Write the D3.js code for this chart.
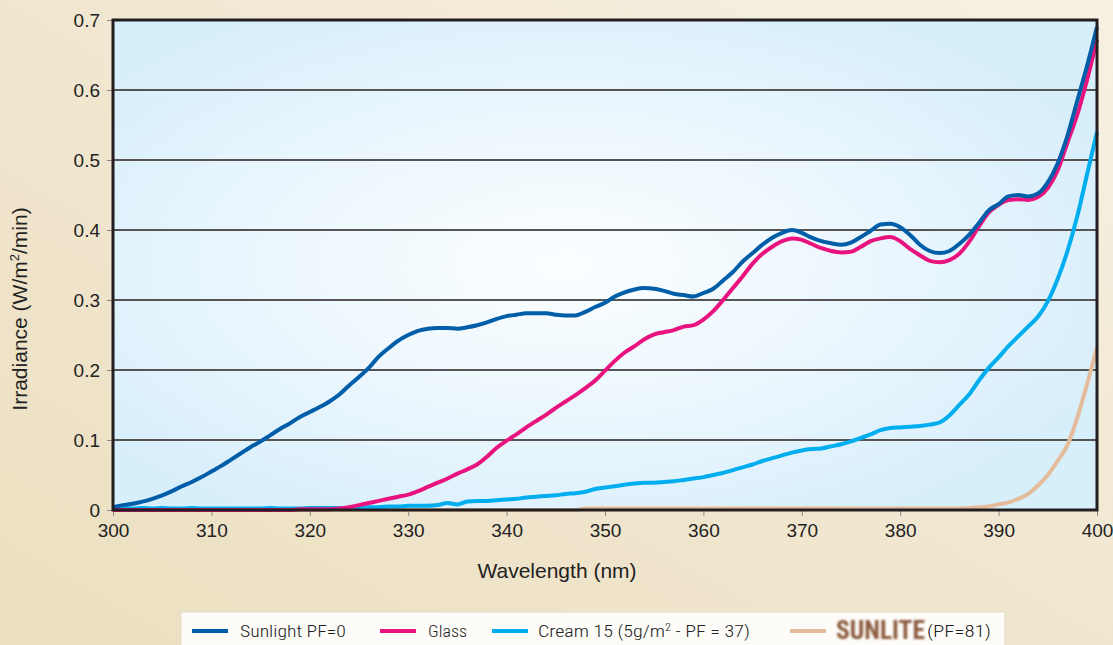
<!DOCTYPE html>
<html><head><meta charset="utf-8">
<script src="https://cdn.jsdelivr.net/npm/d3@7"></script>
<style>
html,body{margin:0;padding:0;overflow:hidden;}
svg{display:block;}
</style></head>
<body>
<svg id="c" width="1113" height="645"></svg>
<script>
// ---- DATA ----
const wavelengths = d3.range(300, 401); // 300..400 nm, 1 nm step
const sunlight = [0.004,0.007,0.009,0.012,0.016,0.021,0.027,0.034,0.040,0.047,
 0.055,0.063,0.072,0.081,0.090,0.098,0.107,0.116,0.124,0.133,
 0.140,0.147,0.155,0.165,0.178,0.190,0.203,0.219,0.231,0.242,
 0.250,0.256,0.259,0.260,0.260,0.259,0.261,0.264,0.268,0.273,
 0.277,0.279,0.281,0.281,0.281,0.279,0.278,0.278,0.283,0.290,
 0.296,0.305,0.311,0.315,0.317,0.316,0.313,0.309,0.307,0.305,
 0.310,0.316,0.328,0.340,0.355,0.367,0.379,0.389,0.396,0.400,
 0.396,0.389,0.384,0.381,0.379,0.382,0.390,0.399,0.408,0.409,
 0.404,0.393,0.379,0.370,0.367,0.370,0.380,0.393,0.410,0.428,
 0.437,0.448,0.450,0.448,0.452,0.468,0.495,0.535,0.585,0.635,0.690];
const glass = [0,0,0,0,0,0,0,0,0,0,
 0,0,0,0,0,0,0,0,0,0.001,
 0.001,0.001,0.001,0.002,0.004,0.007,0.010,0.013,0.016,0.019,
 0.022,0.027,0.033,0.039,0.045,0.052,0.058,0.065,0.076,0.089,
 0.099,0.108,0.118,0.127,0.136,0.146,0.155,0.164,0.174,0.185,
 0.199,0.213,0.225,0.234,0.244,0.251,0.254,0.257,0.262,0.264,
 0.272,0.284,0.300,0.317,0.334,0.352,0.366,0.376,0.384,0.388,
 0.386,0.380,0.374,0.370,0.368,0.369,0.376,0.384,0.388,0.390,
 0.384,0.373,0.364,0.356,0.354,0.357,0.366,0.383,0.405,0.425,
 0.436,0.443,0.444,0.443,0.447,0.460,0.485,0.525,0.565,0.615,0.672];
const cream = [0.002,0.003,0.002,0.003,0.002,0.003,0.002,0.002,0.003,0.002,
 0.002,0.002,0.002,0.002,0.002,0.002,0.003,0.002,0.002,0.002,
 0.003,0.003,0.003,0.003,0.003,0.003,0.004,0.004,0.005,0.005,
 0.006,0.006,0.006,0.007,0.010,0.008,0.012,0.013,0.013,0.014,
 0.015,0.016,0.018,0.019,0.020,0.021,0.023,0.024,0.026,0.030,
 0.032,0.034,0.036,0.038,0.039,0.039,0.040,0.041,0.043,0.045,
 0.047,0.050,0.053,0.057,0.061,0.065,0.070,0.074,0.078,0.082,
 0.085,0.087,0.088,0.091,0.094,0.098,0.103,0.108,0.114,0.117,
 0.118,0.119,0.120,0.122,0.125,0.135,0.150,0.165,0.185,0.203,
 0.218,0.234,0.248,0.262,0.276,0.298,0.330,0.370,0.420,0.480,0.540];
const sunlite = [0,0,0,0,0,0,0,0,0,0,
 0,0,0,0,0,0,0,0,0,0,
 0,0,0,0,0,0,0,0,0,0,
 0,0,0,0,0,0,0,0,0,0,
 0,0,0,0,0,0,0,0,0.002,0.002,
 0.002,0.002,0.002,0.002,0.002,0.002,0.002,0.002,0.002,0.002,
 0.002,0.002,0.002,0.002,0.002,0.002,0.002,0.002,0.002,0.002,
 0.002,0.002,0.002,0.002,0.002,0.002,0.002,0.002,0.002,0.002,
 0.002,0.002,0.002,0.002,0.002,0.002,0.002,0.003,0.004,0.005,
 0.008,0.011,0.016,0.023,0.035,0.050,0.070,0.093,0.132,0.180,0.232];
const xTicks = [300,310,320,330,340,350,360,370,380,390,400];
const yTicks = [0,0.1,0.2,0.3,0.4,0.5,0.6,0.7];
const seriesNames = ["Sunlight PF=0","Glass","Cream 15 (5g/m\u00B2 - PF = 37)","SUNLITE"];
const seriesColors = ["#005ea8","#e8137f","#00aeef","#e5bc9b"];

// ---- LAYOUT ----
const W = 1113, H = 645;
const m = {left:113, right:16, top:20, bottom:135};
const svg = d3.select("#c");
const defs = svg.append("defs");

const bg = defs.append("linearGradient").attr("id","bg").attr("x1","0").attr("y1","1").attr("x2","1").attr("y2","0");
bg.append("stop").attr("offset","0").attr("stop-color","#ecdfc0");
bg.append("stop").attr("offset","0.5").attr("stop-color","#f1e7d0");
bg.append("stop").attr("offset","1").attr("stop-color","#f7f1e3");
svg.append("rect").attr("width",W).attr("height",H).attr("fill","url(#bg)");

const pg = defs.append("radialGradient").attr("id","pg").attr("cx","0.46").attr("cy","0.5").attr("r","0.6");
pg.append("stop").attr("offset","0").attr("stop-color","#fbfeff");
pg.append("stop").attr("offset","0.55").attr("stop-color","#eaf6fd");
pg.append("stop").attr("offset","1").attr("stop-color","#d7eefb");

const x = d3.scaleLinear().domain([300,400]).range([m.left, W - m.right]);
const y = d3.scaleLinear().domain([0,0.7]).range([H - m.bottom, m.top]);

svg.append("rect").attr("x",x(300)).attr("y",y(0.7)).attr("width",x(400)-x(300)).attr("height",y(0)-y(0.7)).attr("fill","url(#pg)");

// gridlines
svg.append("g").selectAll("line").data(yTicks.filter(d=>d>0 && d<0.7)).join("line")
  .attr("x1",x(300)).attr("x2",x(400)).attr("y1",d=>y(d)).attr("y2",d=>y(d))
  .attr("stroke","#555").attr("stroke-width",2);

// axes
const font = "'Liberation Sans', Arial, Helvetica, sans-serif";
const yAxis = svg.append("g").attr("transform",`translate(${x(300)},0)`)
  .call(d3.axisLeft(y).tickValues(yTicks).tickFormat(d=>d===0?"0":d3.format(".1f")(d)).tickSize(6).tickPadding(7));
const xAxis = svg.append("g").attr("transform",`translate(0,${y(0)})`)
  .call(d3.axisBottom(x).tickValues(xTicks).tickSize(6).tickPadding(8));
[xAxis,yAxis].forEach(g=>{
  g.select(".domain").remove();
  g.selectAll(".tick line").attr("stroke","#888").attr("stroke-width",1);
  g.selectAll(".tick text").attr("fill","#222").style("font-family",font).style("font-size","19px");
});

// lines
const line = d3.line().x((d,i)=>x(wavelengths[i])).y(d=>y(d)).curve(d3.curveMonotoneX);
const allSeries = [sunlight, glass, cream, sunlite];
[3,2,1,0].forEach(k=>{
  svg.append("path").datum(allSeries[k]).attr("d",line)
    .attr("fill","none").attr("stroke",seriesColors[k]).attr("stroke-width",4)
    .attr("stroke-linejoin","round").attr("stroke-linecap","butt");
});

// frame
svg.append("rect").attr("x",x(300)).attr("y",y(0.7)).attr("width",x(400)-x(300)).attr("height",y(0)-y(0.7))
  .attr("fill","none").attr("stroke","#231f20").attr("stroke-width",3);

// axis titles
svg.append("text").attr("x",557).attr("y",578).attr("text-anchor","middle")
  .style("font-family",font).style("font-size","21px").attr("fill","#222").text("Wavelength (nm)");
const yt = svg.append("text").attr("transform",`translate(27,309) rotate(-90)`).attr("text-anchor","middle")
  .style("font-family",font).style("font-size","21px").attr("fill","#222");
yt.append("tspan").text("Irradiance (W/m");
yt.append("tspan").attr("dy",-8).style("font-size","13px").text("2");
yt.append("tspan").attr("dy",8).text("/min)");

// legend
const lg = svg.append("g");
lg.append("rect").attr("x",181).attr("y",612).attr("width",824).attr("height",40).attr("fill","#fdfcf9")
  .attr("stroke","#e6dcc6").attr("stroke-width",1);
const lfont = "'Roboto Condensed','Liberation Sans Narrow','DejaVu Sans Condensed',Roboto,sans-serif";
const swatchX = [192,380,492,790];
swatchX.forEach((sx,k)=>{
  lg.append("line").attr("x1",sx).attr("x2",sx+36).attr("y1",631).attr("y2",631)
    .attr("stroke",seriesColors[k]).attr("stroke-width",4);
});
// fit a text element to a target width by horizontal scaling
function fit(t, xp, w){
  const bw = t.node().getBBox().width;
  const s = w / bw;
  t.attr("x",0).attr("transform",`translate(${xp},0) scale(${s},1)`);
}
function ltext(xp, w, str){
  const t = lg.append("text").attr("y",637).style("font-family",lfont).style("font-size","16px").style("font-weight","300").attr("fill","#222").text(str);
  fit(t, xp, w);
  return t;
}
ltext(240,106,seriesNames[0]);
ltext(428,39,seriesNames[1]);
const ct = lg.append("text").attr("y",637).style("font-family",lfont).style("font-size","16px").style("font-weight","300").attr("fill","#222");
ct.append("tspan").text("Cream 15 (5g/m");
ct.append("tspan").attr("dy",-6).style("font-size","10px").text("2");
ct.append("tspan").attr("dy",6).text(" - PF = 37)");
fit(ct, 538, 212);
defs.append("filter").attr("id","bl").append("feGaussianBlur").attr("stdDeviation",0.8);
const st = lg.append("text").attr("y",639).style("font-family",lfont).style("font-size","25px").style("font-weight","bold")
  .attr("fill","#8b5a3c").attr("filter","url(#bl)").text(seriesNames[3]);
fit(st, 836, 89);
ltext(927,64,"(PF=81)");
</script>
</body></html>
